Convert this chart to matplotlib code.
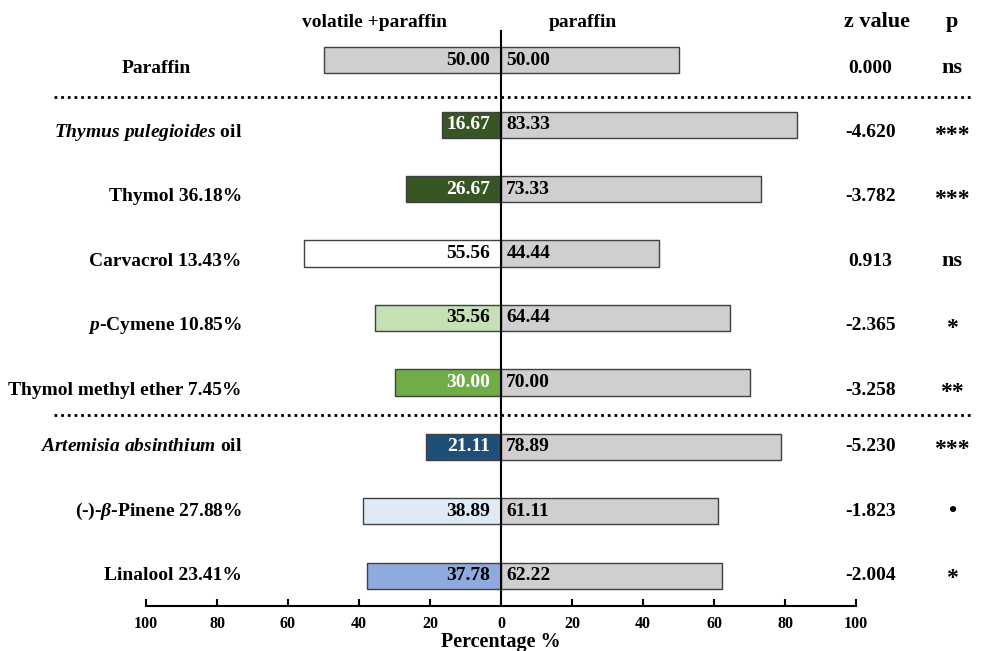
import matplotlib.pyplot as plt
import matplotlib as mpl
import numpy as np

mpl.rcParams['font.family'] = ['Liberation Serif', 'DejaVu Serif']
mpl.rcParams['font.weight'] = 'bold'
mpl.rcParams['mathtext.fontset'] = 'custom'
mpl.rcParams['mathtext.rm'] = 'Liberation Serif:bold'
mpl.rcParams['mathtext.it'] = 'Liberation Serif:italic:bold'
mpl.rcParams['mathtext.bf'] = 'Liberation Serif:bold'

# data, top row first
labels = ['Paraffin',
          r'$\mathit{Thymus\ pulegioides}$ oil',
          'Thymol 36.18%',
          'Carvacrol 13.43%',
          r'$\mathit{p}$-Cymene 10.85%',
          'Thymol methyl ether 7.45%',
          r'$\mathit{Artemisia\ absinthium}$ oil',
          r'(-)-$\mathit{\beta}$-Pinene 27.88%',
          'Linalool 23.41%']
volatile = [50.00, 16.67, 26.67, 55.56, 35.56, 30.00, 21.11, 38.89, 37.78]
paraffin = [50.00, 83.33, 73.33, 44.44, 64.44, 70.00, 78.89, 61.11, 62.22]
z_values = ['0.000', '-4.620', '-3.782', '0.913', '-2.365', '-3.258', '-5.230', '-1.823', '-2.004']
p_labels = ['ns', '***', '***', 'ns', '*', '**', '***', '\u2022', '*']

left_colors = ['#D0CECE', '#375623', '#375623', '#FFFFFF', '#C5E0B4',
               '#70AD47', '#1F4E79', '#DEEBF7', '#8FAADC']
text_colors = ['black', 'white', 'white', 'black', 'black',
               'white', 'white', 'black', 'black']
right_color = '#D0CECE'
edge = '#404040'

n = len(labels)
y = np.arange(n)[::-1]  # Paraffin on top

fig = plt.figure(figsize=(9.82, 6.51), dpi=100)
ax = fig.add_axes([146/982, 1-606/651, 710/982, (606-30)/651])

ax.barh(y, [-v for v in volatile], height=0.41, color=left_colors,
        edgecolor=edge, linewidth=1)
ax.barh(y, paraffin, height=0.41, color=right_color,
        edgecolor=edge, linewidth=1)
ax.axvline(0, color='black', linewidth=1.5)

for i in range(n):
    yy = y[i]
    ax.text(-3, yy, '%.2f' % volatile[i], ha='right', va='center',
            fontsize=14, fontweight='bold', color=text_colors[i])
    ax.text(1.5, yy, '%.2f' % paraffin[i], ha='left', va='center',
            fontsize=14, fontweight='bold', color='black')
    off = -0.12 if i < 6 else 0.0
    if i == 0:
        ax.text(-97, yy + off, labels[i], ha='center', va='center',
                fontsize=14, fontweight='bold', clip_on=False)
    else:
        ax.text(-73, yy + off, labels[i], ha='right', va='center',
                fontsize=14, fontweight='bold', clip_on=False)
    ax.text(104, yy + off, z_values[i], ha='center', va='center',
            fontsize=14, fontweight='bold', clip_on=False)
    ps = 17 if p_labels[i] != 'ns' else 16
    ax.text(127, yy + off - (0.04 if '*' in p_labels[i] else 0), p_labels[i],
            ha='center', va='center', fontsize=ps, fontweight='bold', clip_on=False)

# headers
top = 8.59
ax.text(-35.5, top, 'volatile +paraffin', ha='center', va='center', fontsize=14,
        fontweight='bold', clip_on=False)
ax.text(23, top, 'paraffin', ha='center', va='center', fontsize=14,
        fontweight='bold', clip_on=False)
ax.text(106, top, 'z value', ha='center', va='center', fontsize=16,
        fontweight='bold', clip_on=False)
ax.text(127, top, 'p', ha='center', va='center', fontsize=16,
        fontweight='bold', clip_on=False)

# dotted separators
for sy in [7.43, 2.5]:
    ax.plot([-126, 133], [sy, sy], color='black', linestyle=(0, (1, 1.4)),
            linewidth=2, clip_on=False)

ax.set_xlim(-100, 100)
ax.set_ylim(-0.47, 8.47)
ticks = np.arange(-100, 101, 20)
ax.set_xticks(ticks)
ax.set_xticklabels([str(abs(t)) for t in ticks], fontsize=11.5, fontweight='bold')
ax.set_yticks([])
for s in ['left', 'right', 'top']:
    ax.spines[s].set_visible(False)
ax.spines['bottom'].set_linewidth(1.5)
ax.tick_params(axis='x', direction='in', length=5, width=1.5, pad=7)
ax.set_xlabel('Percentage %', fontsize=14.5, fontweight='bold', labelpad=0)

fig.savefig('out.png', dpi=100)
